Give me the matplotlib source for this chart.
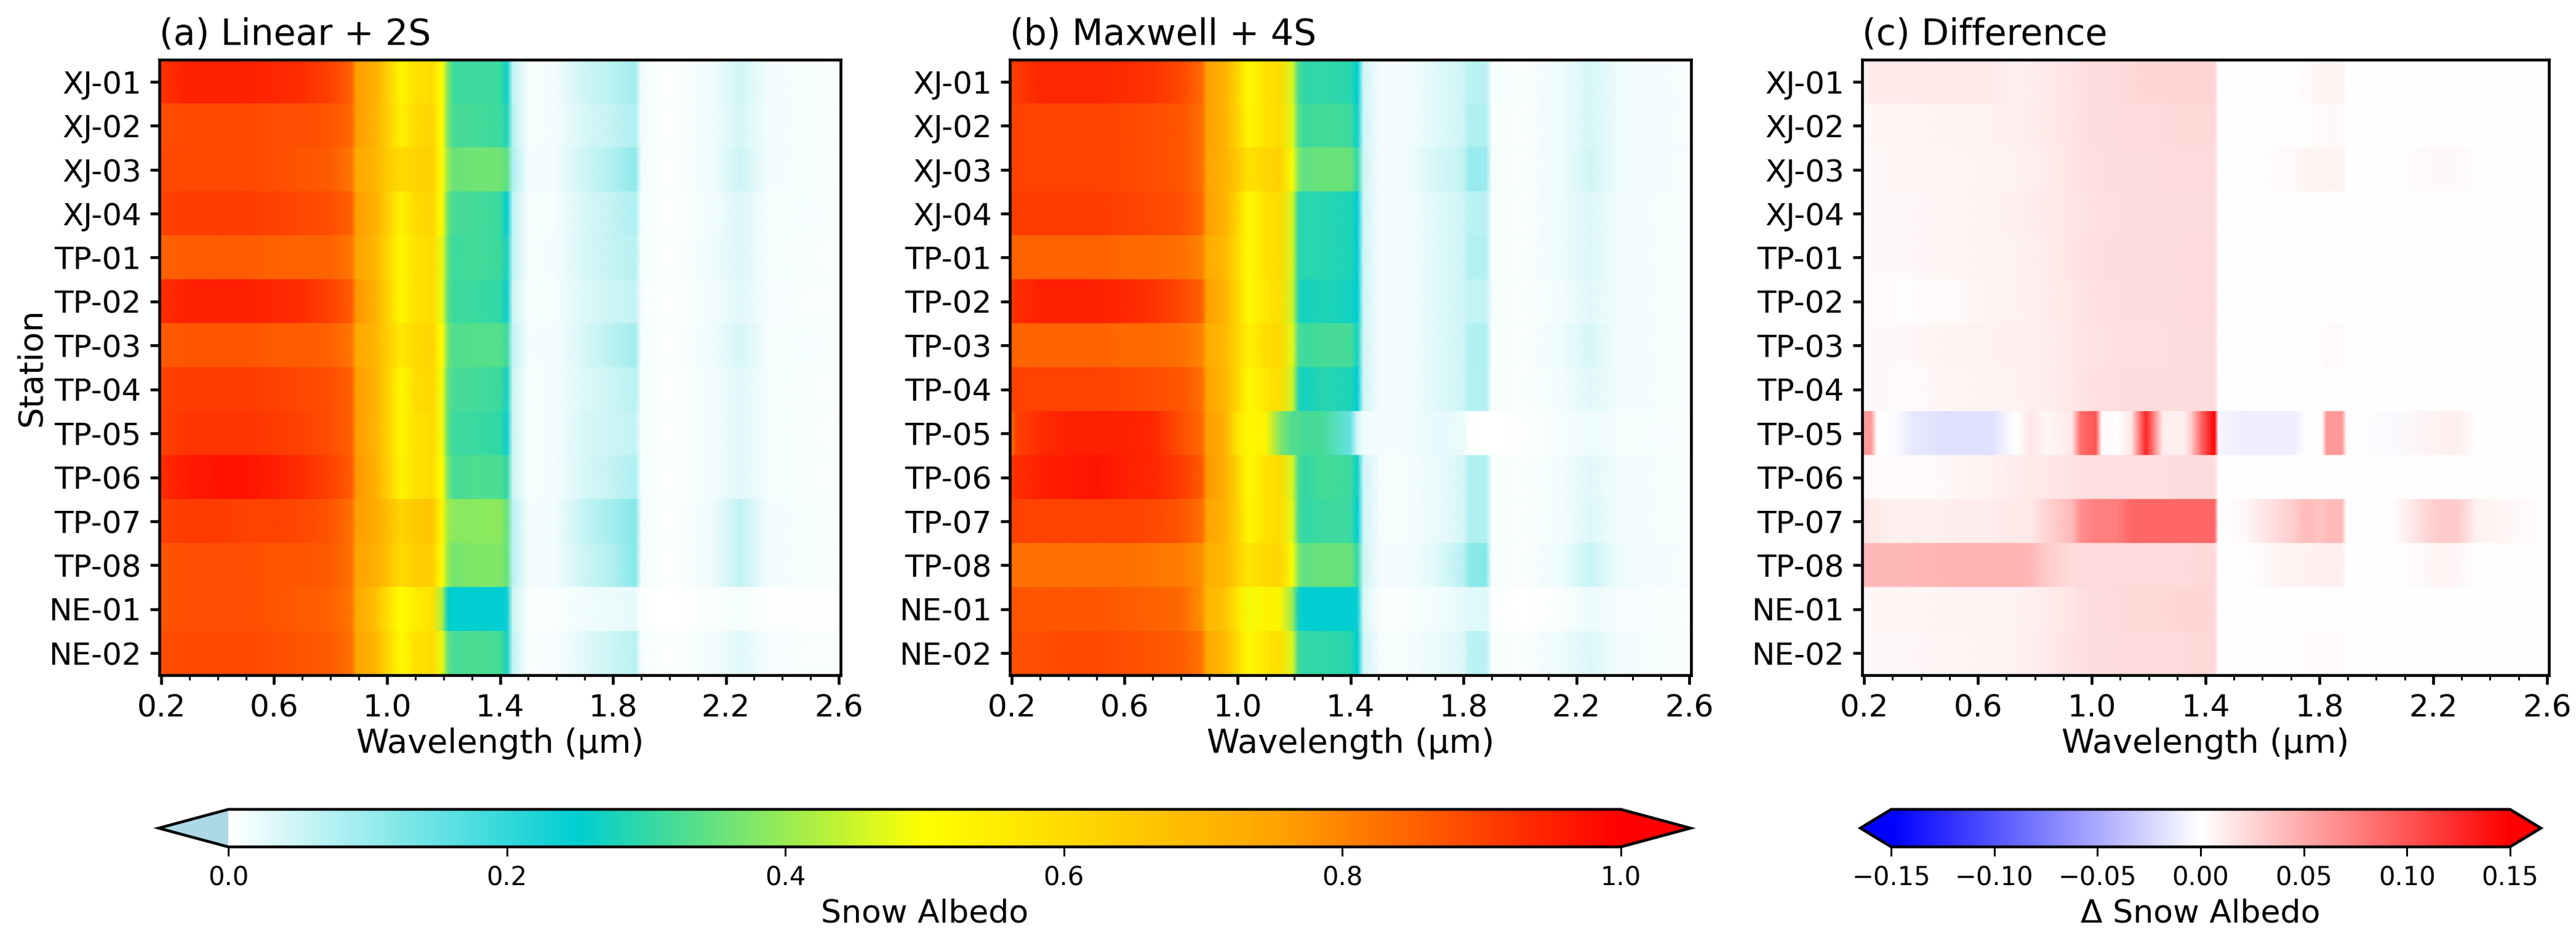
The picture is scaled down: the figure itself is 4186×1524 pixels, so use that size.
import numpy as np
import matplotlib
matplotlib.use('Agg')
import matplotlib.pyplot as plt
import matplotlib.colors as mcolors

W, H = 4186, 1524

stations = ['XJ-01', 'XJ-02', 'XJ-03', 'XJ-04', 'TP-01', 'TP-02', 'TP-03', 'TP-04',
            'TP-05', 'TP-06', 'TP-07', 'TP-08', 'NE-01', 'NE-02']

wl_a = [0.19, 0.30, 0.40, 0.50, 0.60, 0.70, 0.80, 0.875, 0.89, 0.95, 1.00, 1.05, 1.10, 1.16, 1.195, 1.215,
        1.235, 1.30, 1.40, 1.425, 1.445, 1.50, 1.60, 1.70, 1.80, 1.88, 1.90, 2.00, 2.15, 2.25, 2.35, 2.61]
wl_b = [0.19, 0.215, 0.30, 0.40, 0.50, 0.60, 0.70, 0.80, 0.875, 0.89, 0.95, 1.00, 1.04, 1.10, 1.15, 1.195, 1.215,
        1.235, 1.30, 1.40, 1.425, 1.445, 1.50, 1.60, 1.70, 1.80, 1.82, 1.88, 1.90, 2.00, 2.15, 2.25, 2.35, 2.61]
wl_c = [0.19, 0.225, 0.245, 0.27, 0.32, 0.37, 0.50, 0.65, 0.72, 0.74, 0.785, 0.84, 0.93, 0.96, 1.015, 1.035, 1.09,
        1.14, 1.19, 1.22, 1.25, 1.32, 1.35, 1.385, 1.432, 1.445, 1.48, 1.54, 1.71, 1.75, 1.81, 1.825, 1.88, 1.895,
        2.06, 2.21, 2.29, 2.35, 2.61]

albedo_a = [
    [.92, .95, .95, .95, .94, .93, .90, .85, .76, .73, .64, .52, .58, .60, .50, .38, .31, .31, .31, .26, .06, .008, .012, .05, .07, .09, .012, .002, .015, .045, .012, .006],
    [.88, .89, .89, .89, .88, .88, .87, .84, .76, .72, .64, .54, .60, .62, .50, .37, .32, .32, .31, .28, .07, .008, .012, .04, .06, .08, .012, .002, .015, .04, .012, .006],
    [.89, .89, .89, .89, .88, .87, .86, .82, .74, .71, .65, .60, .62, .63, .50, .40, .355, .36, .36, .34, .08, .01, .014, .05, .08, .11, .012, .002, .015, .05, .012, .006],
    [.90, .91, .91, .91, .90, .89, .88, .85, .76, .73, .64, .53, .60, .62, .50, .36, .32, .32, .31, .25, .06, .008, .01, .04, .06, .08, .01, .002, .012, .035, .01, .006],
    [.85, .86, .86, .86, .85, .85, .85, .82, .75, .71, .62, .52, .58, .60, .48, .35, .31, .32, .31, .27, .06, .008, .012, .04, .06, .07, .01, .002, .015, .035, .01, .005],
    [.93, .95, .95, .95, .94, .93, .90, .86, .77, .73, .63, .52, .58, .60, .48, .34, .31, .31, .30, .26, .05, .008, .01, .035, .05, .06, .008, .002, .012, .03, .008, .005],
    [.86, .87, .87, .87, .86, .86, .85, .82, .74, .71, .64, .56, .60, .62, .50, .37, .33, .335, .335, .31, .06, .01, .012, .04, .07, .09, .01, .002, .015, .04, .01, .006],
    [.90, .91, .91, .91, .90, .89, .88, .85, .76, .73, .63, .52, .59, .61, .49, .35, .32, .32, .31, .27, .05, .008, .012, .035, .05, .07, .01, .002, .012, .03, .01, .005],
    [.90, .92, .92, .92, .91, .90, .88, .85, .76, .72, .63, .52, .58, .60, .49, .35, .31, .31, .30, .26, .05, .008, .012, .04, .05, .06, .01, .002, .012, .03, .01, .005],
    [.93, .96, .97, .97, .95, .93, .90, .86, .77, .73, .64, .53, .58, .60, .50, .37, .32, .33, .325, .30, .05, .008, .012, .04, .06, .08, .01, .002, .012, .03, .01, .005],
    [.90, .91, .91, .90, .90, .89, .87, .83, .76, .74, .68, .62, .65, .66, .52, .41, .385, .385, .39, .35, .07, .01, .014, .06, .09, .12, .012, .002, .015, .06, .012, .006],
    [.87, .88, .88, .88, .87, .87, .86, .83, .75, .73, .67, .60, .63, .64, .50, .40, .365, .375, .375, .35, .07, .01, .014, .05, .08, .12, .012, .002, .015, .06, .012, .006],
    [.87, .88, .88, .88, .87, .86, .85, .82, .74, .69, .59, .50, .55, .58, .42, .26, .25, .25, .25, .24, .05, .005, .006, .015, .02, .025, .003, .001, .004, .01, .003, .003],
    [.88, .89, .89, .89, .88, .87, .86, .83, .75, .71, .62, .51, .58, .60, .48, .35, .32, .33, .32, .27, .06, .006, .008, .03, .05, .07, .008, .002, .012, .03, .008, .004],
]

albedo_b = [
    [.91, .91, .94, .94, .94, .93, .92, .89, .84, .76, .72, .62, .51, .58, .60, .46, .33, .295, .30, .29, .25, .05, .012, .012, .03, .05, .07, .07, .012, .004, .018, .04, .016, .008],
    [.90, .90, .90, .90, .90, .89, .88, .87, .83, .76, .72, .62, .52, .58, .60, .47, .34, .31, .32, .31, .26, .05, .012, .012, .03, .05, .08, .08, .01, .004, .018, .04, .016, .008],
    [.90, .90, .90, .90, .90, .89, .88, .87, .83, .75, .72, .65, .58, .61, .63, .49, .38, .345, .355, .355, .30, .05, .012, .014, .04, .06, .10, .10, .01, .004, .018, .045, .016, .008],
    [.91, .91, .91, .91, .91, .90, .89, .88, .84, .76, .72, .62, .51, .58, .60, .46, .30, .29, .29, .28, .25, .05, .012, .012, .03, .05, .07, .07, .01, .004, .018, .035, .012, .008],
    [.85, .85, .85, .85, .85, .84, .84, .83, .80, .73, .70, .60, .51, .58, .60, .46, .30, .29, .29, .28, .25, .05, .012, .012, .03, .05, .075, .075, .01, .004, .018, .035, .012, .008],
    [.92, .93, .95, .95, .95, .94, .92, .89, .85, .76, .72, .61, .51, .57, .59, .45, .29, .27, .28, .27, .25, .05, .012, .012, .03, .05, .06, .06, .01, .004, .012, .03, .012, .008],
    [.85, .85, .85, .85, .85, .84, .84, .83, .80, .73, .70, .62, .54, .59, .61, .47, .33, .31, .32, .32, .27, .05, .012, .012, .03, .05, .08, .08, .01, .004, .018, .04, .012, .008],
    [.90, .90, .90, .90, .90, .89, .88, .87, .83, .75, .71, .61, .51, .57, .59, .45, .29, .27, .29, .28, .25, .05, .012, .012, .03, .05, .075, .075, .01, .004, .012, .03, .012, .008],
    [.80, .90, .93, .95, .95, .95, .94, .88, .84, .76, .73, .57, .52, .53, .38, .33, .33, .32, .32, .15, .04, .015, .012, .012, .025, .02, .002, .001, .001, .003, .008, .018, .01, .007],
    [.92, .93, .95, .96, .97, .95, .94, .91, .86, .77, .73, .62, .51, .58, .60, .46, .33, .30, .32, .31, .26, .05, .01, .01, .02, .04, .08, .08, .01, .004, .012, .03, .012, .008],
    [.90, .90, .90, .90, .90, .90, .89, .87, .83, .75, .72, .62, .52, .58, .60, .47, .33, .30, .31, .31, .25, .05, .01, .01, .02, .04, .08, .08, .01, .004, .012, .035, .012, .008],
    [.83, .83, .83, .83, .83, .83, .82, .81, .78, .72, .70, .63, .57, .60, .62, .49, .38, .345, .355, .355, .30, .05, .012, .012, .03, .07, .11, .12, .01, .004, .018, .055, .016, .008],
    [.87, .87, .87, .87, .87, .86, .85, .84, .78, .70, .67, .57, .49, .53, .53, .40, .27, .25, .25, .25, .24, .04, .006, .006, .012, .025, .03, .035, .004, .001, .004, .02, .008, .006],
    [.88, .88, .88, .89, .89, .88, .87, .86, .82, .74, .70, .60, .51, .57, .59, .46, .32, .30, .30, .29, .25, .05, .01, .01, .02, .035, .07, .07, .01, .004, .018, .035, .012, .006],
]

delta_c = [
    [.003, .012, .012, .012, .012, .012, .013, .012, .009, .009, .010, .012, .016, .018, .020, .020, .021, .023, .024, .024, .024, .024, .025, .025, .025, -.001, -.001, -.001, .001, .003, .006, .007, .007, -.001, -.0005, .002, .002, -.001, -.001],
    [.003, .005, .005, .005, .005, .005, .006, .008, .009, .009, .010, .012, .016, .018, .020, .020, .021, .022, .022, .022, .022, .023, .023, .023, .023, -.001, -.001, 0, .001, .001, .003, .004, .004, -.001, -.0005, .001, .001, -.001, -.001],
    [.003, .004, .004, .004, .005, .005, .005, .007, .008, .008, .009, .011, .015, .017, .019, .019, .020, .021, .021, .021, .021, .022, .022, .022, .022, -.001, -.001, 0, .003, .006, .007, .008, .008, -.001, -.0005, .004, .004, -.001, -.001],
    [.003, .004, .004, .004, .004, .004, .005, .007, .009, .009, .010, .012, .015, .016, .018, .018, .019, .020, .020, .020, .020, .021, .021, .021, .021, -.001, -.001, -.001, .001, .001, .002, .002, .002, -.001, -.0005, 0, 0, -.001, -.001],
    [.004, .004, .004, .004, .004, .004, .005, .007, .008, .008, .009, .011, .015, .017, .019, .019, .020, .021, .021, .021, .021, .021, .022, .022, .022, -.001, -.001, -.001, -.001, 0, .001, .001, .001, -.001, -.0005, 0, 0, -.001, -.001],
    [.003, .003, .003, .003, .002, .002, .003, .006, .008, .008, .009, .011, .014, .016, .018, .018, .019, .020, .021, .021, .021, .021, .022, .022, .022, -.001, -.001, -.001, -.001, -.001, 0, 0, 0, -.001, -.0005, 0, 0, -.001, -.001],
    [.004, .004, .004, .004, .004, .004, .006, .008, .009, .009, .009, .010, .013, .015, .017, .017, .018, .019, .019, .019, .019, .020, .020, .020, .020, -.001, -.001, -.001, 0, 0, .002, .003, .003, -.001, -.0005, 0, 0, -.001, -.001],
    [.003, .004, .004, .004, .003, .003, .005, .007, .008, .008, .009, .010, .014, .016, .018, .018, .019, .020, .020, .020, .020, .020, .021, .021, .021, -.001, -.001, -.001, -.001, 0, .001, .001, .001, -.001, -.0005, 0, 0, -.001, -.001],
    [.060, .060, 0, -.001, -.004, -.014, -.018, -.018, -.002, 0, .015, .004, .012, .085, .100, .003, 0, .015, .130, .070, .010, .008, .030, .090, .150, -.005, -.008, -.010, -.010, 0, 0, .060, .060, 0, -.003, .008, .009, 0, -.001],
    [.002, .003, .003, .003, .003, .003, .004, .008, .011, .011, .012, .014, .017, .018, .019, .019, .019, .019, .019, .019, .019, .020, .020, .020, .020, -.001, -.001, -.001, 0, 0, .001, .001, .001, -.001, -.0005, 0, 0, -.001, -.001],
    [.018, .012, .012, .010, .010, .010, .010, .011, .012, .012, .014, .025, .040, .065, .075, .075, .075, .090, .090, .090, .090, .090, .090, .090, .090, .001, .002, .004, .030, .040, .035, .040, .040, 0, 0, .030, .030, .008, .001],
    [.042, .042, .042, .042, .042, .042, .044, .045, .045, .045, .042, .030, .022, .022, .022, .022, .022, .022, .022, .022, .022, .022, .022, .023, .023, 0, 0, .001, .008, .008, .009, .010, .010, 0, -.001, .005, .004, -.001, -.001],
    [.003, .005, .005, .005, .005, .005, .006, .008, .008, .008, .009, .011, .015, .018, .020, .020, .022, .023, .023, .023, .023, .024, .024, .024, .024, -.001, -.001, -.001, -.001, 0, .001, .001, .001, -.001, -.001, -.001, -.001, -.001, -.001],
    [.003, .004, .004, .004, .004, .004, .005, .007, .008, .008, .009, .012, .017, .018, .020, .020, .021, .022, .022, .022, .022, .022, .023, .023, .023, -.001, -.001, -.001, .001, .002, .003, .003, .003, -.001, -.0005, 0, 0, -.001, -.001],
]

xticks = [0.2, 0.6, 1.0, 1.4, 1.8, 2.2, 2.6]
albedo_ticks = [0.0, 0.2, 0.4, 0.6, 0.8, 1.0]
delta_ticks = [-0.15, -0.10, -0.05, 0.00, 0.05, 0.10, 0.15]

# white - turquoise - yellow - orange - red
albedo_cmap = mcolors.LinearSegmentedColormap.from_list(
    'albedo', [(0.0, 'white'), (0.25, '#00CED1'), (0.5, 'yellow'), (0.75, '#FFA500'), (1.0, 'red')], N=512)
albedo_cmap.set_under('lightblue')
albedo_cmap.set_over('red')
delta_cmap = plt.get_cmap('bwr').copy()
delta_cmap.set_under('blue')
delta_cmap.set_over('red')


def pixel_axes(fig, left, right, top, bottom):
    return fig.add_axes([left / W, 1 - bottom / H, (right - left) / W, (bottom - top) / H])


def draw_panel(ax, wl, rows, cmap, vmin, vmax, title):
    # rows are doubled so every station keeps a hard edge, gouraud only blends along x
    n = len(rows)
    y = np.repeat(np.arange(n + 1), 2)[1:-1] - 0.5
    xx, yy = np.meshgrid(wl, y)
    vals = np.repeat(np.array(rows), 2, axis=0)
    mesh = ax.pcolormesh(xx, yy, vals, cmap=cmap, vmin=vmin, vmax=vmax, shading='gouraud')
    ax.set_xlim(0.1935, 2.6065)
    ax.set_ylim(n - 0.5, -0.5)
    ax.set_xticks(xticks)
    ax.set_xticklabels(['%.1f' % t for t in xticks])
    ax.set_xticks(np.arange(0.2, 2.61, 0.1), minor=True)
    ax.set_yticks(range(n))
    ax.set_yticklabels(stations)
    ax.tick_params(axis='both', which='major', length=3.5, width=1.1, labelsize=12)
    ax.tick_params(axis='x', which='minor', length=2, width=0.7)
    for s in ax.spines.values():
        s.set_linewidth(1.1)
    ax.set_xlabel('Wavelength (μm)', fontsize=13, labelpad=2)
    ax.set_title(title, loc='left', fontsize=14, pad=6)
    return mesh


fig = plt.figure(figsize=(W / 300, H / 300), dpi=300)

ax_a = pixel_axes(fig, 259, 1366, 97, 1097)
ax_b = pixel_axes(fig, 1641, 2748, 97, 1097)
ax_c = pixel_axes(fig, 3026, 4142, 97, 1097)

mesh_a = draw_panel(ax_a, wl_a, albedo_a, albedo_cmap, 0, 1, '(a) Linear + 2S')
draw_panel(ax_b, wl_b, albedo_b, albedo_cmap, 0, 1, '(b) Maxwell + 4S')
mesh_c = draw_panel(ax_c, wl_c, delta_c, delta_cmap, -0.15, 0.15, '(c) Difference')
ax_a.set_ylabel('Station', fontsize=13, labelpad=0.5)

cax1 = pixel_axes(fig, 258, 2747, 1315, 1376)
cb1 = fig.colorbar(mesh_a, cax=cax1, orientation='horizontal', extend='both', extendfrac=0.05)
cb1.set_ticks(albedo_ticks)
cb1.set_label('Snow Albedo', fontsize=12.5, labelpad=3)

cax2 = pixel_axes(fig, 3023, 4129, 1315, 1376)
cb2 = fig.colorbar(mesh_c, cax=cax2, orientation='horizontal', extend='both', extendfrac=0.05)
cb2.set_ticks(delta_ticks)
cb2.set_label('Δ Snow Albedo', fontsize=12.5, labelpad=3)

for cb in (cb1, cb2):
    cb.ax.tick_params(length=3.5, width=0.7, labelsize=10)
    cb.outline.set_linewidth(1.1)
    cb.ax.minorticks_off()

fig.savefig('out.png', dpi=300)
plt.close(fig)
